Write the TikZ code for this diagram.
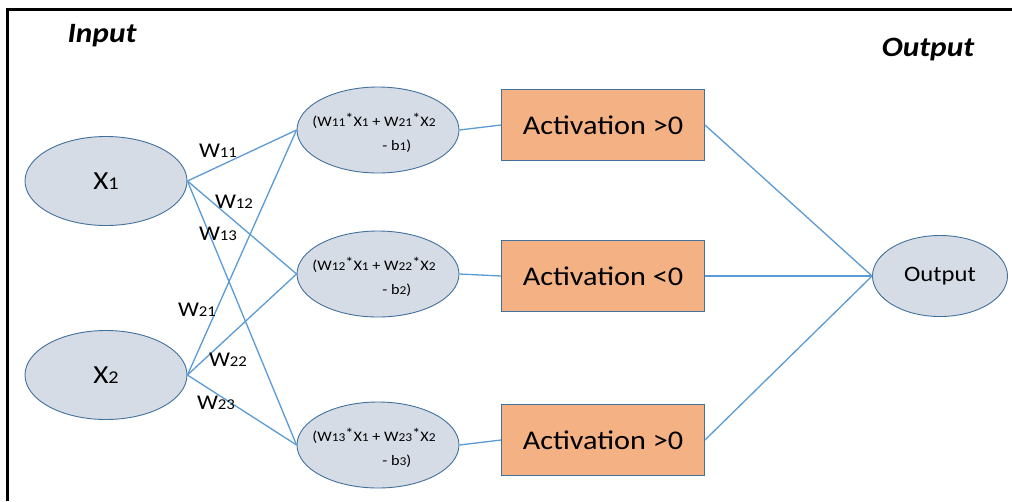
\documentclass[tikz,border=0pt]{standalone}
\usepackage{fontspec}
\setmainfont{Carlito}[FakeStretch=1.12]
\usetikzlibrary{shapes.geometric}
\definecolor{nodefill}{HTML}{D6DCE5}
\definecolor{nodeline}{HTML}{41719C}
\definecolor{actfill}{HTML}{F4B183}
\definecolor{wire}{HTML}{5B9BD5}
% small index digits sitting on the baseline
\newcommand\idx[2]{{\fontsize{#1}{#1}\selectfont #2}}
\tikzset{
  neuron/.style={ellipse, draw=nodeline, fill=nodefill, line width=0.9pt, inner sep=0pt},
  inneuron/.style={neuron, minimum width=162pt, minimum height=89pt, font=\fontsize{26}{26}\selectfont},
  sumneuron/.style={neuron, minimum width=162pt, minimum height=86pt},
  sumtext/.style={inner sep=0pt, font=\fontsize{14.5}{24}\selectfont, align=left},
  outneuron/.style={neuron, minimum width=135pt, minimum height=81pt, font=\fontsize{22}{22}\selectfont},
  actbox/.style={draw=nodeline, fill=actfill, line width=0.9pt, minimum width=203pt, minimum height=71pt, inner sep=0pt, font=\fontsize{27}{27}\selectfont},
  link/.style={draw=wire, line width=1.3pt},
  weight/.style={font=\fontsize{21}{21}\selectfont, inner sep=0pt, anchor=base},
  heading/.style={font=\fontsize{28}{28}\selectfont\bfseries\itshape, inner sep=0pt}
}
\begin{document}
\begin{tikzpicture}[x=1pt, y=-1pt]
\useasboundingbox (0,0) rectangle (1012,501);
\fill[white] (0,0) rectangle (1012,501);
\draw[line width=3pt] (7,501) -- (7,9) -- (1012,9);

\node[heading] (inlbl) at (102,36) {Input};
\node[heading] (outlbl) at (928,50) {Output};

\node[inneuron] (x1) at (106,181) {X\idx{18}{1}};
\node[inneuron] (x2) at (106,375) {X\idx{18}{2}};

\node[sumneuron] (h1) at (378,130) {};
\node[sumneuron] (h2) at (378,274) {};
\node[sumneuron] (h3) at (378,445) {};
\node[sumtext] (h1t) at (374,133) {(W\idx{12}{11}\raisebox{3pt}{*}X\idx{12}{1} + W\idx{12}{21}\raisebox{3pt}{*}X\idx{12}{2}\\\hspace*{70pt}- b\idx{12}{1})};
\node[sumtext] (h2t) at (374,277) {(W\idx{12}{12}\raisebox{3pt}{*}X\idx{12}{1} + W\idx{12}{22}\raisebox{3pt}{*}X\idx{12}{2}\\\hspace*{70pt}- b\idx{12}{2})};
\node[sumtext] (h3t) at (374,448) {(W\idx{12}{13}\raisebox{3pt}{*}X\idx{12}{1} + W\idx{12}{23}\raisebox{3pt}{*}X\idx{12}{2}\\\hspace*{70pt}- b\idx{12}{3})};

\node[actbox] (a1) at (603,125) {Activation >0};
\node[actbox] (a2) at (603,276) {Activation <0};
\node[actbox] (a3) at (603,440) {Activation >0};

\node[outneuron] (out) at (940,276) {Output};

\foreach \s in {x1,x2}
  \foreach \t in {h1,h2,h3}
    \draw[link] (\s.east) -- (\t.west);
\foreach \i in {1,2,3}
  \draw[link] (h\i.east) -- (a\i.west);
\foreach \i in {1,2,3}
  \draw[link] (a\i.east) -- (out.west);

\node[weight] (w11) at (218,157) {W\idx{15}{11}};
\node[weight] (w12) at (234,208) {W\idx{15}{12}};
\node[weight] (w13) at (218,240) {W\idx{15}{13}};
\node[weight] (w21) at (197,316) {W\idx{15}{21}};
\node[weight] (w22) at (228,366) {W\idx{15}{22}};
\node[weight] (w23) at (216,409) {W\idx{15}{23}};
\end{tikzpicture}
\end{document}
